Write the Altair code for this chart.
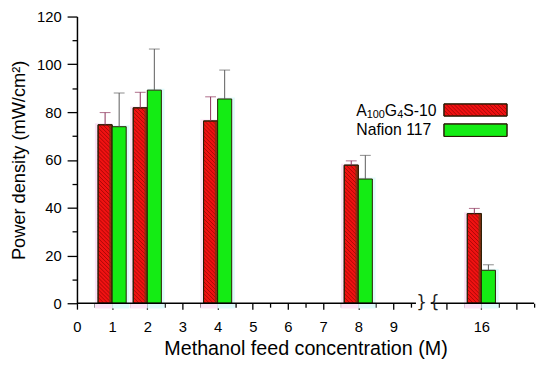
import altair as alt
import pandas as pd

# ---------------- data ----------------
concentration = [1, 2, 4, 8, 16]
a100_power = [74.7, 81.8, 76.3, 57.8, 37.5]
a100_error = [5.1, 6.5, 10.1, 1.8, 2.2]
nafion_power = [73.9, 89.2, 85.5, 52.0, 13.8]
nafion_error = [14.1, 17.2, 12.1, 9.9, 2.3]
# legend label pieces: (text, is_subscript)
series1_parts = [("A", False), ("100", True), ("G", False), ("4", True), ("S-10", False)]
series2_name = "Nafion 117"
x_tick_labels = {0: "0", 1: "1", 2: "2", 3: "3", 4: "4", 5: "5", 6: "6",
                 7: "7", 8: "8", 9: "9", 16: "16"}

# ---------------- layout constants ----------------
W, H = 464, 291
XMAX, YMAX = 13.0, 120.0
SX, SY = W / XMAX, H / YMAX
BREAK_SHIFT = 4.5          # 16 M is drawn at position 11.5 (broken axis)
BW = 0.4
RED = "#f01212"
GREEN = "#14ec14"
EDGE = "#2a1d05"
FONT = "Liberation Sans"
FS, FS_SUB = 16, 11


def pos(c):
    return c if c <= 9.5 else c - BREAK_SHIFT


def hatch(x0, x1, y0, y1, period=4.0):
    X0, X1, Y0, Y1 = x0 * SX, x1 * SX, y0 * SY, y1 * SY
    rows = []
    c = X0 + Y0 + period / 2
    while c < X1 + Y1:
        xa = max(X0, c - Y1)
        xb = min(X1, c - Y0)
        if xb > xa:
            rows.append(dict(hx=xa / SX, hy=(c - xa) / SY, hx2=xb / SX, hy2=(c - xb) / SY))
        c += period
    return rows


red = pd.DataFrame({
    "x0": [pos(c) - BW for c in concentration],
    "x1": [pos(c) for c in concentration],
    "xc": [pos(c) - BW / 2 for c in concentration],
    "v": a100_power,
    "top": [v + e for v, e in zip(a100_power, a100_error)],
})
green = pd.DataFrame({
    "x0": [pos(c) for c in concentration],
    "x1": [pos(c) + BW for c in concentration],
    "xc": [pos(c) + BW / 2 for c in concentration],
    "v": nafion_power,
    "top": [v + e for v, e in zip(nafion_power, nafion_error)],
})
red["s0"] = red["x1"] - 0.08
# soft halos seen around the bars in the reference
red["h0"] = red["x0"] - 0.09
red["hb"] = -2.2
red["ht"] = red["v"] + 0.6
green["h1"] = green["x1"] + 0.09
green["hb"] = -2.2
green["ht"] = green["v"] + 0.6


def px2x(px):
    return px / SX


def px2y(py):
    return (H - py) / SY


# legend text pieces with approximate advance widths (Liberation Sans metrics)
adv = {"A": 0.667, "G": 0.778, "S": 0.667, "-": 0.333, "1": 0.556, "0": 0.556, "4": 0.556}
pieces = []
cursor = 0.0
for txt, sub in series1_parts:
    size = FS_SUB if sub else FS
    pieces.append(dict(t=txt, dx=cursor, size=size, dy=4.5 if sub else 0.0,
                       y=px2y(95.5), x=px2x(283.5)))
    cursor += sum(adv.get(ch, 0.556) for ch in txt) * size
pieces.append(dict(t=series2_name, dx=0.0, size=FS, dy=0.0, y=px2y(115.5), x=px2x(283.5)))
leg_text = pd.DataFrame(pieces)

leg_box = pd.DataFrame({
    "x0": [px2x(372.5)] * 2,
    "x1": [px2x(436.5)] * 2,
    "y0": [px2y(101.0), px2y(121.7)],
    "y1": [px2y(88.7), px2y(109.0)],
    "c": [RED, GREEN],
})

hrows = []
for _, r in red.iterrows():
    hrows += hatch(r.x0, r.x1, 0, r.v)
hrows += hatch(leg_box.x0[0], leg_box.x1[0], leg_box.y0[0], leg_box.y1[0])
hatch_df = pd.DataFrame(hrows)

axis_line = pd.DataFrame({"a": [0.0, 10.06], "b": [9.64, XMAX], "y": [0.0, 0.0]})
breaks = pd.DataFrame({"x": [9.8, 10.16], "y": [0.0, 0.0], "t": ["}", "{"]})

x_vals = [i * 0.5 for i in range(0, 20)] + [10.5 + i * 0.5 for i in range(0, 6)]
label_map = {pos(k): v for k, v in x_tick_labels.items()}
label_expr = " : ".join(
    [f"abs(datum.value - {k}) < 0.01 ? '{v}'" for k, v in label_map.items()] + ["''"]
)

xs = alt.Scale(domain=[0, XMAX], nice=False, zero=False)
ys = alt.Scale(domain=[0, YMAX], nice=False)

x_axis = alt.Axis(
    title="Methanol feed concentration (M)", values=x_vals, labelExpr=label_expr,
    domain=False, grid=False, tickColor="black", tickWidth=1.3,
    tickSize={"condition": {"test": "(datum.value <= 9.5 && datum.value % 1 === 0) || (datum.value > 10 && (datum.value - 10.5) % 1 === 0)", "value": 6}, "value": 4},
    labelFontSize=15, labelFont=FONT, labelColor="black", labelPadding=11,
    titleFontSize=20, titleFont=FONT, titleFontWeight="normal", titleColor="black",
    titlePadding=4, labelFlush=False, labelOverlap=False,
)
y_axis = alt.Axis(
    title="Power density (mW/cm\u00b2)", values=list(range(0, 121, 10)),
    labelExpr="datum.value % 20 === 0 ? datum.label : ''",
    domainColor="black", domainWidth=1.5, grid=False, tickColor="black", tickWidth=1.3,
    tickSize={"condition": {"test": "datum.value % 20 === 0", "value": 10}, "value": 5},
    labelFontSize=15, labelFont=FONT, labelColor="black", labelPadding=6,
    titleFontSize=18.5, titleFont=FONT, titleFontWeight="normal", titleColor="black",
    titlePadding=8, labelOverlap=False,
)


def X(f):
    return alt.X(f, scale=xs, axis=x_axis)


def Y(f):
    return alt.Y(f, scale=ys, axis=y_axis)


base_red = alt.Chart(red)
base_green = alt.Chart(green)

red_halo = base_red.mark_rect(fill="#fbe4f6").encode(
    x=X("h0:Q"), x2="x1:Q", y=Y("hb:Q"), y2="ht:Q",
)
green_halo = base_green.mark_rect(fill="#e0fbfb").encode(
    x=X("x0:Q"), x2="h1:Q", y=Y("hb:Q"), y2="ht:Q",
)
red_bars = base_red.mark_rect(fill=RED, stroke=EDGE, strokeWidth=1).encode(
    x=X("x0:Q"), x2="x1:Q", y=Y("v:Q"), y2=alt.datum(0),
)
hatch_layer = alt.Chart(hatch_df).mark_rule(color="#7a0000", strokeWidth=1, opacity=0.6).encode(
    x=X("hx:Q"), y=Y("hy:Q"), x2="hx2:Q", y2="hy2:Q",
)
red_strip = base_red.mark_rect(fill="#6e3a12", opacity=0.75).encode(
    x=X("s0:Q"), x2="x1:Q", y=Y("v:Q"), y2=alt.datum(0),
)
red_outline = base_red.mark_rect(fillOpacity=0, stroke=EDGE, strokeWidth=1).encode(
    x=X("x0:Q"), x2="x1:Q", y=Y("v:Q"), y2=alt.datum(0),
)
green_bars = base_green.mark_rect(fill=GREEN, stroke=EDGE, strokeWidth=1).encode(
    x=X("x0:Q"), x2="x1:Q", y=Y("v:Q"), y2=alt.datum(0),
)


def err_layers(base, color):
    rule = base.mark_rule(color=color, strokeWidth=1).encode(
        x=X("xc:Q"), y=Y("v:Q"), y2="top:Q",
    )
    cap = base.mark_tick(orient="horizontal", color=color, size=11, thickness=1).encode(
        x=X("xc:Q"), y=Y("top:Q"),
    )
    return [rule, cap]


axis_rules = alt.Chart(axis_line).mark_rule(color="black", strokeWidth=1.5).encode(
    x=X("a:Q"), x2="b:Q", y=Y("y:Q"),
)
break_marks = alt.Chart(breaks).mark_text(fontSize=17, font="DejaVu Sans", color="#222",
                                          baseline="middle", align="center").encode(
    x=X("x:Q"), y=Y("y:Q"), text="t:N",
)

legend_boxes = alt.Chart(leg_box).mark_rect(stroke=EDGE, strokeWidth=1).encode(
    x=X("x0:Q"), x2="x1:Q", y=Y("y0:Q"), y2="y1:Q",
    fill=alt.Fill("c:N", scale=None),
)
legend_outline = alt.Chart(leg_box).mark_rect(fillOpacity=0, stroke=EDGE, strokeWidth=1).encode(
    x=X("x0:Q"), x2="x1:Q", y=Y("y0:Q"), y2="y1:Q",
)

legend_texts = []
for _, p in leg_text.iterrows():
    legend_texts.append(
        alt.Chart(pd.DataFrame([p])).mark_text(
            fontSize=int(p["size"]), font=FONT, color="black", align="left",
            baseline="middle", dx=float(p["dx"]), dy=float(p["dy"]),
        ).encode(x=X("x:Q"), y=Y("y:Q"), text="t:N")
    )

chart = alt.layer(
    red_halo, green_halo,
    red_bars, legend_boxes, hatch_layer, red_strip, red_outline, legend_outline, green_bars,
    *err_layers(base_red, "#8b3058"), *err_layers(base_green, "#5a5a5a"),
    axis_rules, break_marks, *legend_texts,
).properties(
    width=W, height=H,
    autosize=alt.AutoSizeParams(type="none"),
    padding={"left": 70, "top": 6, "right": 8, "bottom": 60},
).configure(font=FONT, background="white").configure_view(stroke=None)

chart.save("out.html", embed_options={"renderer": "svg", "actions": False})
